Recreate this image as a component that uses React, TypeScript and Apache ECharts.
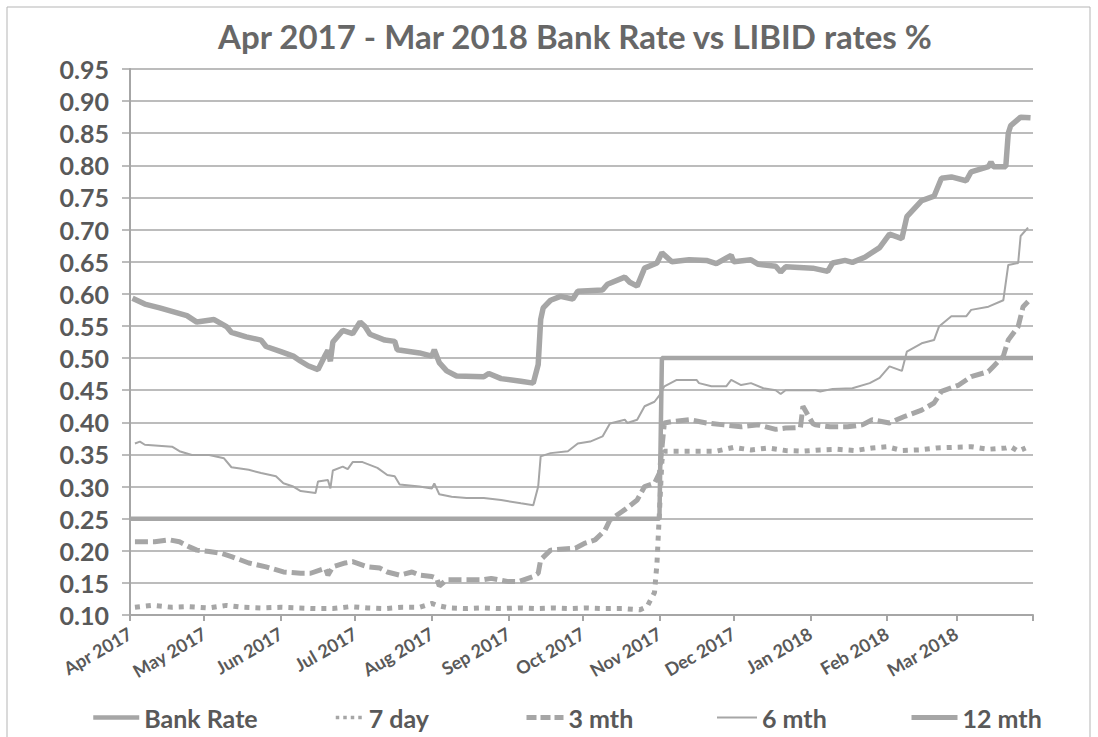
import React, { useEffect, useRef } from "react";
import * as echarts from "echarts";

const titleText = "Apr 2017 - Mar 2018 Bank Rate vs LIBID rates %";

const monthStarts = [
  "2017-04-01", "2017-05-01", "2017-06-01", "2017-07-01", "2017-08-01", "2017-09-01",
  "2017-10-01", "2017-11-01", "2017-12-01", "2018-01-01", "2018-02-01", "2018-03-01", "2018-04-01",
];
const monthLabels = [
  "Apr 2017", "May 2017", "Jun 2017", "Jul 2017", "Aug 2017", "Sep 2017",
  "Oct 2017", "Nov 2017", "Dec 2017", "Jan 2018", "Feb 2018", "Mar 2018", "",
];

const seriesNames = ["Bank Rate", "7 day", "3 mth", "6 mth", "12 mth"];

const bankRate: [string, number][] = [
  ["2017-04-01", 0.25], ["2017-11-01", 0.25], ["2017-11-02", 0.5], ["2018-04-01", 0.5],
];

const day7: [string, number][] = [
  ["2017-04-03", 0.112], ["2017-04-10", 0.115], ["2017-04-18", 0.112], ["2017-04-25", 0.113],
  ["2017-05-03", 0.111], ["2017-05-10", 0.115], ["2017-05-17", 0.112], ["2017-05-24", 0.111],
  ["2017-06-01", 0.112], ["2017-06-08", 0.111], ["2017-06-15", 0.110], ["2017-06-22", 0.110],
  ["2017-06-29", 0.113], ["2017-07-06", 0.111], ["2017-07-13", 0.110], ["2017-07-20", 0.112],
  ["2017-07-27", 0.112], ["2017-08-01", 0.118], ["2017-08-03", 0.115], ["2017-08-08", 0.111],
  ["2017-08-15", 0.110], ["2017-08-22", 0.111], ["2017-08-29", 0.110], ["2017-09-05", 0.111],
  ["2017-09-12", 0.110], ["2017-09-19", 0.111], ["2017-09-26", 0.110], ["2017-10-03", 0.111],
  ["2017-10-10", 0.110], ["2017-10-17", 0.110], ["2017-10-24", 0.108], ["2017-10-27", 0.113],
  ["2017-10-30", 0.135], ["2017-10-31", 0.18], ["2017-11-01", 0.26], ["2017-11-02", 0.34],
  ["2017-11-03", 0.355], ["2017-11-10", 0.355], ["2017-11-17", 0.355], ["2017-11-24", 0.355],
  ["2017-12-01", 0.361], ["2017-12-08", 0.357], ["2017-12-15", 0.360], ["2017-12-22", 0.356],
  ["2017-12-29", 0.355], ["2018-01-05", 0.357], ["2018-01-12", 0.358], ["2018-01-19", 0.356],
  ["2018-01-26", 0.360], ["2018-02-01", 0.362], ["2018-02-07", 0.356], ["2018-02-14", 0.357],
  ["2018-02-21", 0.360], ["2018-02-28", 0.361], ["2018-03-07", 0.362], ["2018-03-14", 0.358],
  ["2018-03-21", 0.360], ["2018-03-23", 0.362], ["2018-03-26", 0.355], ["2018-03-29", 0.360],
];

const mth3: [string, number][] = [
  ["2017-04-03", 0.214], ["2017-04-11", 0.214], ["2017-04-17", 0.217], ["2017-04-21", 0.214],
  ["2017-04-25", 0.206], ["2017-04-28", 0.201], ["2017-05-03", 0.199], ["2017-05-08", 0.196],
  ["2017-05-12", 0.191], ["2017-05-19", 0.181], ["2017-05-26", 0.175], ["2017-06-02", 0.167],
  ["2017-06-09", 0.165], ["2017-06-13", 0.165], ["2017-06-19", 0.173], ["2017-06-20", 0.162],
  ["2017-06-22", 0.175], ["2017-06-27", 0.181], ["2017-06-30", 0.183], ["2017-07-06", 0.175],
  ["2017-07-11", 0.173], ["2017-07-14", 0.167], ["2017-07-19", 0.162], ["2017-07-24", 0.167],
  ["2017-07-27", 0.162], ["2017-08-01", 0.160], ["2017-08-03", 0.157], ["2017-08-04", 0.145],
  ["2017-08-07", 0.155], ["2017-08-15", 0.155], ["2017-08-22", 0.155], ["2017-08-25", 0.157],
  ["2017-09-01", 0.152], ["2017-09-05", 0.152], ["2017-09-11", 0.160], ["2017-09-13", 0.165],
  ["2017-09-14", 0.186], ["2017-09-18", 0.201], ["2017-09-28", 0.204], ["2017-10-02", 0.212],
  ["2017-10-06", 0.217], ["2017-10-10", 0.232], ["2017-10-12", 0.248], ["2017-10-18", 0.264],
  ["2017-10-23", 0.279], ["2017-10-26", 0.300], ["2017-10-30", 0.305], ["2017-11-01", 0.321],
  ["2017-11-02", 0.360], ["2017-11-03", 0.399], ["2017-11-06", 0.401], ["2017-11-13", 0.404],
  ["2017-11-20", 0.399], ["2017-11-27", 0.396], ["2017-12-04", 0.393], ["2017-12-11", 0.396],
  ["2017-12-18", 0.389], ["2017-12-22", 0.391], ["2017-12-28", 0.392], ["2017-12-29", 0.425],
  ["2018-01-02", 0.398], ["2018-01-03", 0.396], ["2018-01-09", 0.393], ["2018-01-16", 0.393],
  ["2018-01-22", 0.396], ["2018-01-26", 0.404], ["2018-02-02", 0.399], ["2018-02-08", 0.409],
  ["2018-02-15", 0.419], ["2018-02-20", 0.430], ["2018-02-23", 0.448], ["2018-03-02", 0.458],
  ["2018-03-07", 0.471], ["2018-03-14", 0.479], ["2018-03-16", 0.487], ["2018-03-20", 0.503],
  ["2018-03-22", 0.528], ["2018-03-26", 0.549], ["2018-03-28", 0.580], ["2018-03-30", 0.588],
];

const mth6: [string, number][] = [
  ["2017-04-03", 0.367], ["2017-04-05", 0.370], ["2017-04-07", 0.365], ["2017-04-18", 0.362],
  ["2017-04-21", 0.355], ["2017-04-26", 0.349], ["2017-05-03", 0.349], ["2017-05-09", 0.344],
  ["2017-05-12", 0.330], ["2017-05-19", 0.326], ["2017-05-24", 0.321], ["2017-05-30", 0.316],
  ["2017-06-02", 0.305], ["2017-06-06", 0.300], ["2017-06-09", 0.293], ["2017-06-15", 0.290],
  ["2017-06-16", 0.308], ["2017-06-20", 0.310], ["2017-06-21", 0.297], ["2017-06-22", 0.325],
  ["2017-06-26", 0.331], ["2017-06-28", 0.327], ["2017-06-30", 0.338], ["2017-07-04", 0.338],
  ["2017-07-10", 0.329], ["2017-07-14", 0.318], ["2017-07-17", 0.316], ["2017-07-19", 0.303],
  ["2017-07-27", 0.300], ["2017-08-01", 0.297], ["2017-08-02", 0.305], ["2017-08-04", 0.288],
  ["2017-08-09", 0.284], ["2017-08-15", 0.282], ["2017-08-22", 0.282], ["2017-08-29", 0.279],
  ["2017-09-06", 0.274], ["2017-09-11", 0.271], ["2017-09-13", 0.300], ["2017-09-14", 0.347],
  ["2017-09-18", 0.352], ["2017-09-25", 0.355], ["2017-09-29", 0.367], ["2017-10-04", 0.370],
  ["2017-10-09", 0.378], ["2017-10-12", 0.398], ["2017-10-18", 0.404], ["2017-10-19", 0.399],
  ["2017-10-23", 0.404], ["2017-10-26", 0.425], ["2017-10-30", 0.432], ["2017-11-01", 0.442],
  ["2017-11-03", 0.456], ["2017-11-08", 0.466], ["2017-11-16", 0.466], ["2017-11-17", 0.461],
  ["2017-11-22", 0.456], ["2017-11-28", 0.456], ["2017-11-30", 0.466], ["2017-12-04", 0.458],
  ["2017-12-08", 0.461], ["2017-12-13", 0.453], ["2017-12-18", 0.450], ["2017-12-20", 0.444],
  ["2017-12-22", 0.450], ["2018-01-03", 0.450], ["2018-01-05", 0.448], ["2018-01-10", 0.452],
  ["2018-01-18", 0.453], ["2018-01-25", 0.461], ["2018-01-29", 0.469], ["2018-02-02", 0.487],
  ["2018-02-07", 0.480], ["2018-02-09", 0.510], ["2018-02-15", 0.523], ["2018-02-20", 0.528],
  ["2018-02-22", 0.549], ["2018-02-27", 0.565], ["2018-03-05", 0.565], ["2018-03-07", 0.575],
  ["2018-03-14", 0.580], ["2018-03-20", 0.590], ["2018-03-22", 0.645], ["2018-03-26", 0.648],
  ["2018-03-27", 0.690], ["2018-03-30", 0.703],
];

const mth12: [string, number][] = [
  ["2017-04-02", 0.593], ["2017-04-07", 0.584], ["2017-04-13", 0.578], ["2017-04-24", 0.566],
  ["2017-04-28", 0.556], ["2017-05-05", 0.560], ["2017-05-10", 0.549], ["2017-05-12", 0.540],
  ["2017-05-18", 0.533], ["2017-05-24", 0.528], ["2017-05-26", 0.518], ["2017-06-01", 0.510],
  ["2017-06-06", 0.503], ["2017-06-09", 0.495], ["2017-06-12", 0.488], ["2017-06-16", 0.482],
  ["2017-06-19", 0.505], ["2017-06-20", 0.512], ["2017-06-21", 0.495], ["2017-06-22", 0.525],
  ["2017-06-26", 0.543], ["2017-06-30", 0.538], ["2017-07-03", 0.556], ["2017-07-05", 0.549],
  ["2017-07-07", 0.537], ["2017-07-13", 0.528], ["2017-07-17", 0.526], ["2017-07-18", 0.513],
  ["2017-07-27", 0.508], ["2017-08-01", 0.503], ["2017-08-02", 0.513], ["2017-08-04", 0.493],
  ["2017-08-07", 0.480], ["2017-08-11", 0.472], ["2017-08-22", 0.471], ["2017-08-24", 0.476],
  ["2017-08-29", 0.468], ["2017-09-06", 0.464], ["2017-09-11", 0.461], ["2017-09-13", 0.490],
  ["2017-09-14", 0.560], ["2017-09-15", 0.578], ["2017-09-18", 0.590], ["2017-09-22", 0.596],
  ["2017-09-27", 0.592], ["2017-09-29", 0.604], ["2017-10-09", 0.606], ["2017-10-11", 0.615],
  ["2017-10-18", 0.626], ["2017-10-20", 0.618], ["2017-10-23", 0.612], ["2017-10-26", 0.640],
  ["2017-10-31", 0.648], ["2017-11-02", 0.664], ["2017-11-06", 0.650], ["2017-11-13", 0.653],
  ["2017-11-20", 0.652], ["2017-11-24", 0.647], ["2017-11-30", 0.660], ["2017-12-01", 0.650],
  ["2017-12-08", 0.653], ["2017-12-11", 0.646], ["2017-12-18", 0.643], ["2017-12-20", 0.634],
  ["2017-12-22", 0.642], ["2018-01-02", 0.640], ["2018-01-08", 0.635], ["2018-01-10", 0.648],
  ["2018-01-15", 0.652], ["2018-01-18", 0.649], ["2018-01-23", 0.657], ["2018-01-29", 0.672],
  ["2018-02-02", 0.693], ["2018-02-07", 0.686], ["2018-02-09", 0.720], ["2018-02-15", 0.745],
  ["2018-02-20", 0.752], ["2018-02-23", 0.780], ["2018-02-27", 0.782], ["2018-03-05", 0.776],
  ["2018-03-07", 0.790], ["2018-03-14", 0.798], ["2018-03-15", 0.805], ["2018-03-16", 0.798],
  ["2018-03-21", 0.798], ["2018-03-22", 0.850], ["2018-03-23", 0.862], ["2018-03-27", 0.875],
  ["2018-03-31", 0.874],
];

const legendLefts = [86, 329, 519, 711, 904];
const legendIconWidths = [46, 28, 37, 40, 46];

const FONT = "Lato, 'Open Sans', sans-serif";
const LINE = "#a6a6a6";
const TEXT = "#595959";

const seriesStyles: any[] = [
  { color: LINE, width: 4.5 },
  { color: LINE, width: 5, type: [5, 6] },
  { color: LINE, width: 5, type: [13, 5] },
  { color: LINE, width: 2 },
  { color: LINE, width: 5.5 },
];
const legendStyles: any[] = [
  { color: LINE, width: 4.5 },
  { color: LINE, width: 3.5, type: [3.5, 4] },
  { color: LINE, width: 5, type: [10, 4] },
  { color: LINE, width: 2 },
  { color: LINE, width: 5 },
];

function buildDays(): string[] {
  const out: string[] = [];
  const start = Date.UTC(2017, 3, 1);
  const end = Date.UTC(2018, 3, 1);
  for (let t = start; t <= end; t += 86400000) {
    out.push(new Date(t).toISOString().slice(0, 10));
  }
  return out;
}

export default function App() {
  const ref = useRef<HTMLDivElement>(null);
  useEffect(() => {
    document.body.style.margin = "0";
    if (!ref.current) return;
    const chart = echarts.init(ref.current, undefined, { renderer: "svg" });
    const days = buildDays();
    const labelOf: Record<string, string> = {};
    monthStarts.forEach((d, i) => (labelOf[d] = monthLabels[i]));
    const seriesData = [bankRate, day7, mth3, mth6, mth12];
    chart.setOption({
      animation: false,
      backgroundColor: "#ffffff",
      textStyle: { fontFamily: FONT },
      title: {
        text: titleText,
        left: 213,
        top: 14,
        textStyle: { fontFamily: FONT, fontSize: 33, fontWeight: "bold", color: "#676767" },
      },
      graphic: [
        {
          type: "rect",
          shape: { x: 0, y: 0, width: 1083, height: 740 },
          style: { fill: "none", stroke: "#b5b5b5", lineWidth: 1 },
          x: 7,
          y: 7,
          silent: true,
        },
      ],
      grid: { left: 130, right: 65, top: 69, bottom: 122, containLabel: false },
      legend: seriesNames.map((n, i) => ({
        left: legendLefts[i],
        bottom: 2,
        itemWidth: legendIconWidths[i],
        itemHeight: 14,
        data: [n],
        itemStyle: { opacity: 0 },
        lineStyle: legendStyles[i],
        textStyle: { fontFamily: FONT, fontSize: 25, fontWeight: "bold", color: TEXT },
      })),
      xAxis: {
        type: "category",
        data: days,
        boundaryGap: false,
        axisLine: { show: true, lineStyle: { color: LINE, width: 2 } },
        axisTick: {
          show: true,
          length: 6,
          lineStyle: { color: LINE, width: 2 },
          interval: (_i: number, v: string) => v in labelOf,
        },
        axisLabel: {
          interval: (_i: number, v: string) => v in labelOf && labelOf[v] !== "",
          formatter: (v: string) => labelOf[v] || "",
          rotate: 30,
          margin: 17,
          fontFamily: FONT,
          fontSize: 18,
          fontWeight: "bold",
          color: TEXT,
        },
        splitLine: { show: false },
      },
      yAxis: {
        type: "value",
        min: 0.1,
        max: 0.95,
        interval: 0.05,
        axisLine: { show: true, lineStyle: { color: LINE, width: 2 } },
        axisTick: { show: true, length: 8, lineStyle: { color: LINE, width: 1.5 } },
        axisLabel: {
          formatter: (v: number) => v.toFixed(2),
          margin: 21,
          fontFamily: FONT,
          fontSize: 25,
          fontWeight: "bold",
          color: TEXT,
        },
        splitLine: { show: true, lineStyle: { color: LINE, width: 1.5 } },
      },
      series: seriesNames.map((n, i) => ({
        type: "line",
        name: n,
        data: seriesData[i],
        symbol: "none",
        showSymbol: false,
        z: i === 0 ? 5 : 2,
        lineStyle: seriesStyles[i],
        itemStyle: { color: LINE },
      })),
    });
    return () => chart.dispose();
  }, []);
  return <div ref={ref} style={{ width: 1098, height: 737 }} />;
}
